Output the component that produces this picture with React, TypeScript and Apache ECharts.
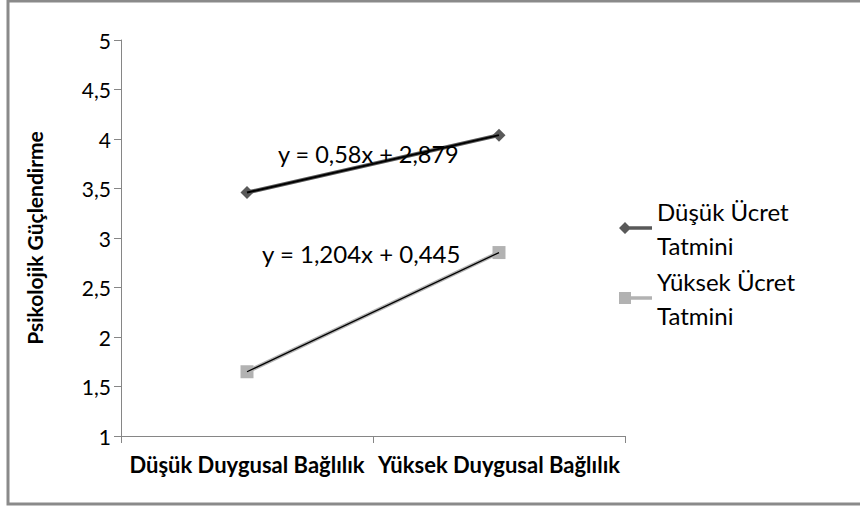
import React, { useEffect, useRef } from "react";
import * as echarts from "echarts";

const categories = ["Düşük Duygusal Bağlılık", "Yüksek Duygusal Bağlılık"];
const seriesNames = ["Düşük Ücret\nTatmini", "Yüksek Ücret\nTatmini"];
const lowPay = [3.459, 4.039];
const highPay = [1.649, 2.853];
const trendLow = [3.459, 4.039];
const trendHigh = [1.649, 2.853];
const equations = ["y = 0,58x + 2,879", "y = 1,204x + 0,445"];
const yMin = 1;
const yMax = 5;
const yStep = 0.5;

const FONT = "Lato, 'Open Sans', sans-serif";
const DIAMOND_ICON = "path://M0,6 L6,0 L12,6 L6,12 Z M10,4.3 L33,4.3 L33,7.7 L10,7.7 Z";
const SQUARE_ICON = "path://M0,0 L12,0 L12,12 L0,12 Z M10,4.3 L33,4.3 L33,7.7 L10,7.7 Z";

export default function App() {
  const ref = useRef<HTMLDivElement>(null);
  useEffect(() => {
    document.body.style.margin = "0";
    const chart = echarts.init(ref.current!, null, { renderer: "svg" });
    chart.setOption({
      animation: false,
      backgroundColor: "#ffffff",
      textStyle: { fontFamily: FONT },
      grid: { left: 121, right: 235, top: 40, bottom: 77 },
      xAxis: {
        type: "category",
        data: categories,
        boundaryGap: true,
        axisLine: { lineStyle: { color: "#868686", width: 1 } },
        axisTick: { show: true, length: 7, inside: false, lineStyle: { color: "#868686" } },
        axisLabel: {
          color: "#000",
          fontFamily: FONT,
          fontWeight: "bold",
          fontSize: 22,
          margin: 17,
          interval: 0,
        },
      },
      yAxis: {
        type: "value",
        min: yMin,
        max: yMax,
        interval: yStep,
        name: "Psikolojik Güçlendirme",
        nameLocation: "middle",
        nameGap: 76,
        nameRotate: 90,
        nameTextStyle: { color: "#000", fontFamily: FONT, fontWeight: "bold", fontSize: 21 },
        axisLine: { show: true, lineStyle: { color: "#868686", width: 1 } },
        axisTick: { show: true, length: 7, lineStyle: { color: "#868686" } },
        splitLine: { show: false },
        axisLabel: {
          color: "#000",
          fontFamily: FONT,
          fontSize: 21,
          margin: 10,
          formatter: (v: number) => String(v).replace(".", ","),
        },
      },
      legend: {
        orient: "vertical",
        left: 614,
        top: 172,
        itemWidth: 33,
        itemHeight: 12,
        itemGap: -32,
        textStyle: {
          color: "#000",
          fontFamily: FONT,
          fontSize: 24,
          lineHeight: 34,
          padding: [34, 0, 0, 0],
        },
        data: [
          { name: seriesNames[0], icon: DIAMOND_ICON },
          { name: seriesNames[1], icon: SQUARE_ICON },
        ],
      },
      series: [
        {
          name: seriesNames[0],
          type: "line",
          data: lowPay,
          symbol: "diamond",
          symbolSize: 13,
          lineStyle: { color: "#595959", width: 4 },
          itemStyle: { color: "#595959" },
          z: 2,
        },
        {
          name: seriesNames[1],
          type: "line",
          data: highPay,
          symbol: "rect",
          symbolSize: 13,
          lineStyle: { color: "#b2b2b2", width: 4 },
          itemStyle: { color: "#b2b2b2" },
          z: 2,
        },
        {
          name: "trend1",
          type: "line",
          data: trendLow,
          symbol: "none",
          lineStyle: { color: "#000", width: 2 },
          z: 3,
        },
        {
          name: "trend2",
          type: "line",
          data: trendHigh,
          symbol: "none",
          lineStyle: { color: "#000", width: 1.3 },
          z: 3,
        },
      ],
      graphic: [
        {
          type: "rect",
          shape: { x: 8, y: 1, width: 900, height: 503 },
          style: { fill: "none", stroke: "#8a8a8a", lineWidth: 3 },
          silent: true,
        },
        {
          type: "text",
          left: 278,
          top: 142,
          style: { text: equations[0], font: `23.5px ${FONT}`, fill: "#000" },
          z: 10,
        },
        {
          type: "text",
          left: 262,
          top: 241,
          style: { text: equations[1], font: `24px ${FONT}`, fill: "#000" },
          z: 10,
        },
      ],
    });
    return () => chart.dispose();
  }, []);
  return <div ref={ref} style={{ width: 860, height: 513 }} />;
}
